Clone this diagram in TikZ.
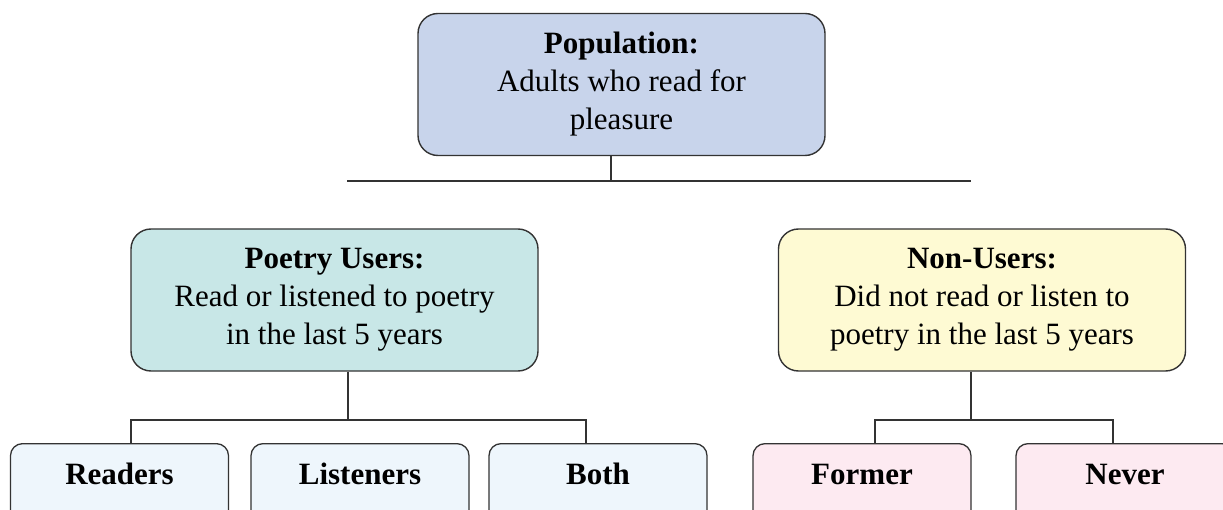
\documentclass[tikz,border=0pt]{standalone}
\usepackage{fontspec}
\setmainfont{Liberation Serif}
\definecolor{linec}{HTML}{333333}
\definecolor{popfill}{HTML}{C8D4EB}
\definecolor{userfill}{HTML}{C8E7E7}
\definecolor{nonfill}{HTML}{FEFAD3}
\definecolor{subfill}{HTML}{EEF6FC}
\definecolor{nevfill}{HTML}{FDEAF1}
\begin{document}
\begin{tikzpicture}[x=1pt,y=-1pt,
  txt/.style={font=\fontsize{31}{38}\selectfont},
  bigbox/.style={draw=linec, line width=1.4pt, rounded corners=20pt,
    minimum width=407pt, minimum height=142pt, align=center, inner sep=0pt, txt},
  smallbox/.style={draw=linec, line width=1.3pt, rounded corners=12pt,
    minimum width=218pt, inner sep=0pt, text height=41pt, text depth=49pt,
    anchor=north, font=\fontsize{31}{38}\selectfont\bfseries},
  conn/.style={draw=linec, line width=1.3pt}]
\useasboundingbox (0,0) rectangle (1223,510);
\clip (0,0) rectangle (1223,510);

\node[bigbox, fill=popfill] (pop) at (621.5,84.5) {\textbf{Population:}\\Adults who read for\\pleasure};
\node[bigbox, fill=userfill] (users) at (334.5,300) {\textbf{Poetry Users:}\\Read or listened to poetry\\in the last 5 years};
\node[bigbox, fill=nonfill] (non) at (982,300) {\textbf{Non-Users:}\\Did not read or listen to\\poetry in the last 5 years};

\node[smallbox, fill=subfill] (readers) at (119.5,443) {Readers};
\node[smallbox, fill=subfill] (listeners) at (360,443) {Listeners};
\node[smallbox, fill=subfill] (both) at (598,443) {Both};
\node[smallbox, fill=nevfill] (former) at (862,443) {Former};
\node[smallbox, fill=nevfill] (never) at (1125,443) {Never};

\coordinate (topbar) at (611,181);
\coordinate (barL) at (347,181);
\coordinate (barR) at (971,181);
\draw[conn] (pop.south -| topbar) -- (topbar);
\draw[conn] (barL) -- (barR);

\coordinate (ujoin) at (348,420);
\draw[conn] (users.south -| ujoin) -- (ujoin);
\draw[conn] (readers.north -| 131,0) |- (ujoin) -| (both.north -| 586,0);

\coordinate (njoin) at (971,420);
\draw[conn] (non.south -| njoin) -- (njoin);
\draw[conn] (former.north -| 875,0) |- (njoin) -| (never.north -| 1113,0);
\end{tikzpicture}
\end{document}
